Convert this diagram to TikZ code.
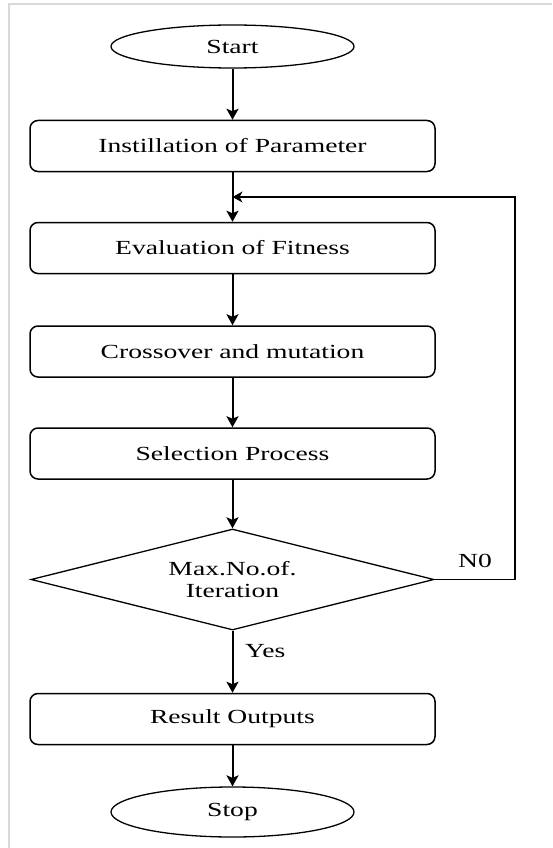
\documentclass[tikz,border=0pt]{standalone}
\usepackage{fontspec}
\setmainfont[FakeStretch=1.38]{Liberation Serif}
\usetikzlibrary{shapes.geometric,arrows.meta}
\begin{document}
\begin{tikzpicture}[x=1pt,y=1pt,
  every node/.style={font=\fontsize{20}{22}\selectfont},
  procbox/.style={draw, line width=1.5pt, rounded corners=8pt, minimum width=405pt, minimum height=51pt, inner sep=0pt},
  term/.style={draw, line width=1.3pt, ellipse, minimum width=243pt, inner sep=0pt},
  decision/.style={draw, line width=1.3pt, diamond, aspect=4, minimum width=403pt, minimum height=101pt, inner sep=0pt, align=center},
  flow/.style={line width=2pt, -{Stealth[length=11pt,width=12pt,inset=2.5pt]}},
  fback/.style={line width=1.4pt, -{Stealth[length=10pt,width=11pt,inset=3pt]}},
  lbl/.style={inner sep=0pt}
]
\useasboundingbox (0,0) rectangle (552,-848);
\draw[line width=2pt, color=black!15] (9,-848) -- (9,-4) -- (552,-4);

\node[term, minimum height=43pt] (start) at (232.5,-46.5) {Start};
\node[procbox] (init) at (232.5,-146) {Instillation of Parameter};
\node[procbox] (eval) at (232.5,-248) {Evaluation of Fitness};
\node[procbox] (cross) at (232.5,-351.5) {Crossover and mutation};
\node[procbox] (sel) at (232.5,-453.5) {Selection Process};
\node[decision] (dia) at (232.5,-579.5) {Max.No.of.\\Iteration};
\node[procbox] (res) at (232.5,-719) {Result Outputs};
\node[term, minimum height=50pt] (stop) at (232.5,-812) {Stop};

\coordinate (fbcorner) at (515,-197);
\coordinate (fbend) at (232.5,-197);

\draw[flow] (start) -- (init);
\draw[flow] (init) -- (eval);
\draw[flow] (eval) -- (cross);
\draw[flow] (cross) -- (sel);
\draw[flow] (sel) -- (dia);
\draw[flow] (dia) -- (res);
\draw[flow] (res) -- (stop);
\draw[fback] (dia.east) -| (fbcorner) -- (fbend);

\node[lbl] (no) at (475,-561) {N0};
\node[lbl, anchor=west] (yes) at (245,-651) {Yes};
\end{tikzpicture}
\end{document}
